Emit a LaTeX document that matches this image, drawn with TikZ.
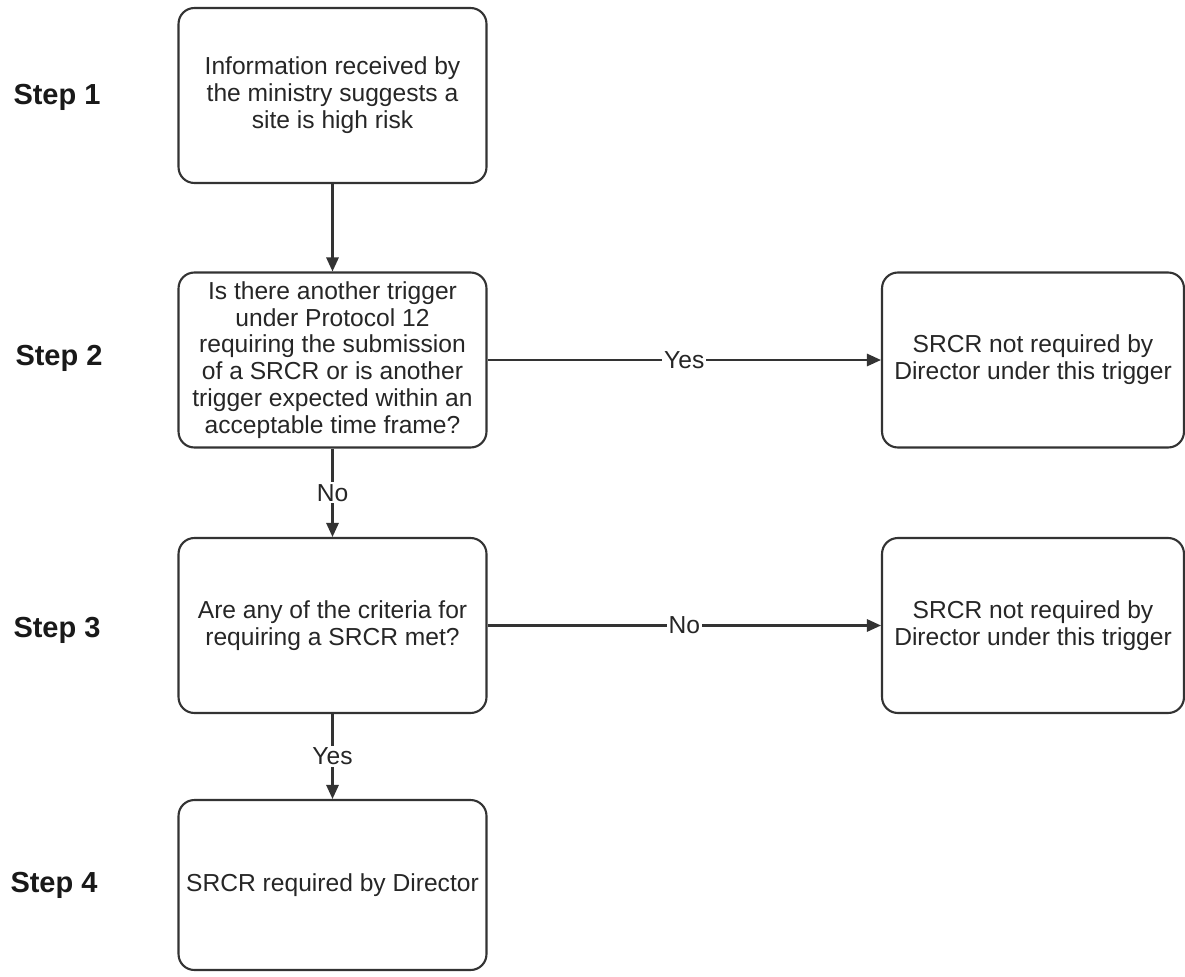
\documentclass[tikz,border=0pt]{standalone}
\usepackage{fontspec}
\setmainfont{Liberation Sans}
\usetikzlibrary{arrows.meta}
\begin{document}
\begin{tikzpicture}[x=0.02cm,y=-0.02cm,
    box/.style={draw=black!80,line width=1.2pt,rounded corners=9pt,align=center,
      minimum width=6.16cm,minimum height=3.5cm,inner sep=1pt,text=black!85,
      font=\fontsize{14}{15.3}\selectfont},
    stepname/.style={font=\fontsize{16.5}{19}\selectfont\bfseries,text=black!90},
    lbl/.style={fill=white,inner sep=1pt,font=\fontsize{14}{15.3}\selectfont,text=black!85},
    link/.style={draw=black!80,line width=1.2pt,-{Triangle[length=8pt,width=7pt]}}]
\useasboundingbox (0,0) rectangle (1185,976);
\node [stepname] (s1) at (57,97) {Step 1};
\node [stepname] (s2) at (59,358) {Step 2};
\node [stepname] (s3) at (57,630) {Step 3};
\node [stepname] (s4) at (54,885) {Step 4};
\node [box] (info) at (332.5,95.5) {Information received by\\the ministry suggests a\\site is high risk};
\node [box] (trigger) at (332.5,360) {Is there another trigger\\under Protocol 12\\requiring the submission\\of a SRCR or is another\\trigger expected within an\\acceptable time frame?};
\node [box] (criteria) at (332.5,625.5) {Are any of the criteria for\\requiring a SRCR met?};
\node [box,minimum height=3.4cm] (req) at (332.5,885) {SRCR required by Director};
\node [box,minimum width=6.04cm] (notreqa) at (1033,360) {SRCR not required by\\Director under this trigger};
\node [box,minimum width=6.04cm] (notreqb) at (1033,625.5) {SRCR not required by\\Director under this trigger};
\draw [link] (info) -- (trigger);
\draw [link] (trigger) -- node [lbl] {Yes} (notreqa);
\draw [link] (trigger) -- node [lbl] {No} (criteria);
\draw [link] (criteria) -- node [lbl] {No} (notreqb);
\draw [link] (criteria) -- node [lbl] {Yes} (req);
\end{tikzpicture}
\end{document}
